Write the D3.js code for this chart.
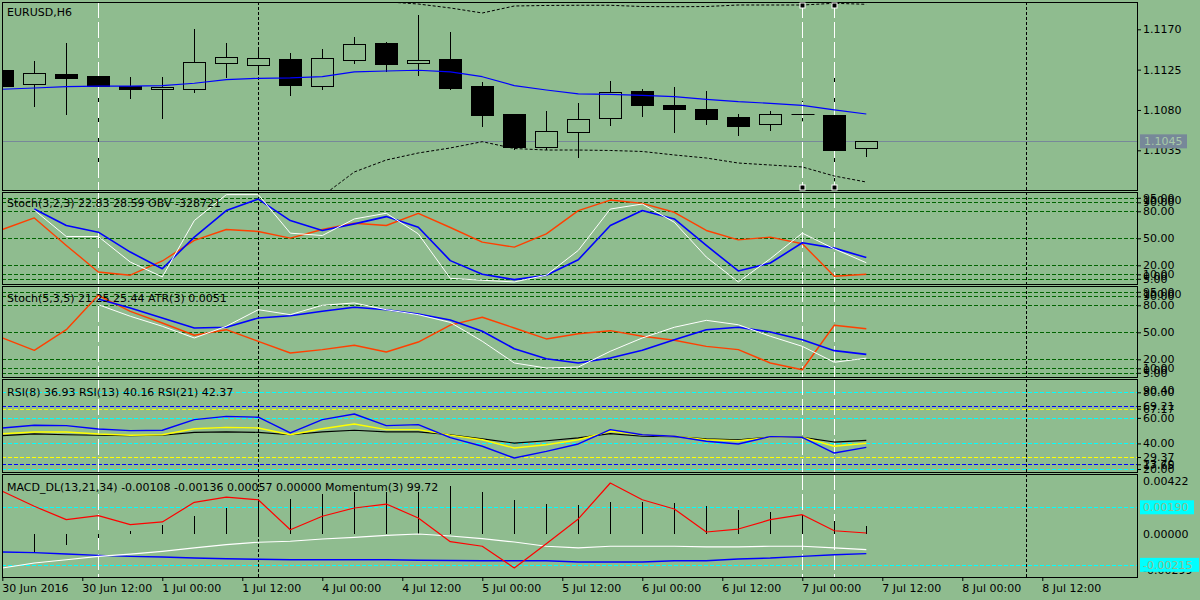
<!DOCTYPE html>
<html>
<head>
<meta charset="utf-8">
<title>EURUSD,H6</title>
<script src="https://cdnjs.cloudflare.com/ajax/libs/d3/7.8.5/d3.min.js"></script>
<style>
	body { margin: 0; background: #8fbc8f; }
	text { font-family: "DejaVu Sans", sans-serif; font-size: 11px; }
</style>
</head>
<body>
<div id="chart"></div>
<script>

// ---- values, one entry per H6 bar (bar 0 = 30 Jun 2016 00:00) ----

var timeLabels = ["30 Jun 2016", "30 Jun 12:00", "1 Jul 00:00", "1 Jul 12:00", "4 Jul 00:00", "4 Jul 12:00",
	"5 Jul 00:00", "5 Jul 12:00", "6 Jul 00:00", "6 Jul 12:00", "7 Jul 00:00", "7 Jul 12:00", "8 Jul 00:00", "8 Jul 12:00"];

var opens  = [1.11246, 1.11086, 1.11201, 1.11179, 1.11067, 1.11031, 1.11037, 1.11321, 1.11298, 1.11369, 1.11071, 1.11361, 1.11547, 1.11321,
	1.11369, 1.11067, 1.10755, 1.10383, 1.10551, 1.10707, 1.11012, 1.10855, 1.10811, 1.10722, 1.10640, 1.10752, 1.10744, 1.10372];
var highs  = [1.11260, 1.11346, 1.11547, 1.11201, 1.11168, 1.11168, 1.11703, 1.11547, 1.11469, 1.11436, 1.11480, 1.11614, 1.11558, 1.11860,
	1.11670, 1.11112, 1.10755, 1.10788, 1.10878, 1.11123, 1.11034, 1.11056, 1.11012, 1.10755, 1.10788, 1.10900, 1.11212, 1.10450];
var lows   = [1.11060, 1.10844, 1.10758, 1.10231, 1.10937, 1.10714, 1.11004, 1.11168, 1.11235, 1.10967, 1.11037, 1.11327, 1.11235, 1.11193,
	1.11034, 1.10624, 1.10364, 1.10368, 1.10279, 1.10636, 1.10736, 1.10558, 1.10647, 1.10524, 1.10580, 1.10691, 1.10019, 1.10290];
var closes = [1.11067, 1.11212, 1.11160, 1.11067, 1.11037, 1.11056, 1.11335, 1.11391, 1.11380, 1.11079, 1.11380, 1.11536, 1.11316, 1.11357,
	1.11048, 1.10747, 1.10390, 1.10562, 1.10699, 1.11000, 1.10859, 1.10814, 1.10703, 1.10624, 1.10752, 1.10752, 1.10357, 1.10450];

var maLine = [1.11031, 1.11045, 1.11060, 1.11067, 1.11067, 1.11071, 1.11098, 1.11138, 1.11153, 1.11157, 1.11171, 1.11224, 1.11235, 1.11243,
	1.11224, 1.11171, 1.11071, 1.11023, 1.10980, 1.10975, 1.10962, 1.10948, 1.10919, 1.10892, 1.10874, 1.10852, 1.10800, 1.10755];
var bandUpper = [null, null, null, null, null, null, null, null, null, null, null, 1.12116, 1.12007, 1.11982,
	1.11938, 1.11882, 1.11960, 1.11966, 1.11968, 1.11968, 1.11954, 1.11952, 1.11954, 1.11971, 1.11971, 1.11971, 1.11990, 1.11979];
var bandLower = [null, null, null, null, null, null, null, null, null, null, 1.09840, 1.10108, 1.10242, 1.10320,
	1.10376, 1.10446, 1.10370, 1.10353, 1.10353, 1.10348, 1.10337, 1.10298, 1.10264, 1.10208, 1.10186, 1.10164, 1.10063, 1.09996];

// Stoch(3,2,3) + OBV (OBV as plotted in the window)
var stoch1Main   = [null, 81.4, 52.0, 52.0, 23.6, 7.1, 69.7, 98.5, 98.5, 55.7, 53.1, 71.5, 77.8, 54.9,
	5.5, 3.4, 1.5, 9.0, 36.6, 82.5, 88.1, 67.8, 29.2, 1.5, 27.3, 55.7, 38.3, 22.83];
var stoch1Signal = [null, 82.5, 64.2, 56.8, 34.7, 16.2, 51.3, 80.8, 93.6, 69.7, 58.7, 66.0, 74.1, 62.3,
	25.2, 10.1, 4.1, 9.0, 26.2, 64.2, 80.8, 71.5, 42.1, 13.7, 22.5, 45.0, 39.1, 28.59];
var obvLine      = [59.8, 72.6, 42.1, 12.6, 9.0, 24.8, 47.6, 59.8, 57.6, 50.2, 59.8, 66.7, 64.2, 77.8,
	62.0, 45.7, 40.2, 54.9, 80.8, 92.5, 88.8, 78.9, 58.7, 48.3, 51.3, 43.9, 7.8, 10.1];

// Stoch(5,3,5) + ATR(3) (ATR as plotted in the window)
var stoch2Main   = [null, null, null, 80.7, 67.8, 56.7, 43.7, 56.7, 75.1, 69.6, 80.0, 82.6, 75.1, 69.6,
	61.0, 40.0, 15.9, 10.3, 11.4, 28.9, 43.7, 55.6, 63.3, 58.4, 45.6, 34.4, 16.7, 21.25];
var stoch2Signal = [null, null, null, 87.0, 77.0, 65.9, 54.8, 55.6, 65.9, 68.4, 73.3, 77.8, 75.1, 70.3,
	63.6, 51.1, 31.8, 20.7, 15.9, 21.4, 30.0, 41.8, 52.9, 55.6, 50.3, 41.8, 29.6, 25.44];
var atrLine      = [43.7, 30.0, 52.9, 91.1, 73.3, 60.3, 46.7, 52.9, 40.0, 27.0, 30.7, 35.6, 28.1, 39.2,
	58.0, 66.7, 54.8, 42.6, 48.4, 51.8, 45.6, 41.1, 34.4, 30.7, 15.9, 8.4, 57.8, 54.0];

var rsi8  = [52.1, 54.2, 53.9, 51.3, 50.0, 50.3, 58.6, 61.2, 60.5, 48.2, 58.6, 63.0, 53.9, 54.7,
	44.5, 37.8, 28.6, 33.8, 39.6, 50.8, 46.8, 45.6, 41.7, 39.6, 45.3, 44.8, 32.5, 36.93];
var rsi13 = [47.6, 49.0, 49.0, 47.4, 46.4, 46.8, 51.5, 52.6, 52.1, 46.8, 51.5, 55.2, 50.8, 50.8,
	46.5, 42.9, 36.4, 39.0, 42.9, 49.5, 46.8, 45.6, 42.9, 42.1, 44.8, 44.8, 37.8, 40.16];
var rsi21 = [46.1, 47.4, 46.8, 46.4, 46.1, 46.4, 48.7, 49.0, 48.7, 46.8, 49.0, 50.3, 49.0, 49.0,
	46.8, 43.5, 40.3, 42.1, 44.3, 47.6, 45.6, 45.3, 43.5, 42.9, 45.0, 44.8, 41.1, 42.37];

// MACD_DL(13,21,34) + Momentum(3) (momentum as plotted in the window)
var macdMain   = [-0.00237, -0.00202, -0.00179, -0.00155, -0.00139, -0.00120, -0.00096, -0.00073, -0.00056, -0.00049, -0.00033, -0.00021, -0.00007, 0.00002,
	-0.00012, -0.00031, -0.00054, -0.00084, -0.00096, -0.00084, -0.00084, -0.00084, -0.00089, -0.00089, -0.00084, -0.00084, -0.00096, -0.00108];
var macdSignal = [-0.00125, -0.00129, -0.00139, -0.00148, -0.00155, -0.00160, -0.00167, -0.00172, -0.00176, -0.00179, -0.00179, -0.00179, -0.00179, -0.00183,
	-0.00184, -0.00186, -0.00186, -0.00186, -0.00195, -0.00195, -0.00195, -0.00186, -0.00186, -0.00174, -0.00167, -0.00155, -0.00144, -0.00136];
var macdHist   = [null, -0.00132, -0.00073, -0.00026, 0.00025, 0.00068, 0.00131, 0.00185, 0.00243, 0.00251, 0.00284, 0.00298, 0.00298, 0.00298,
	0.00337, 0.00298, 0.00243, 0.00213, 0.00204, 0.00227, 0.00227, 0.00220, 0.00197, 0.00169, 0.00157, 0.00138, 0.00091, 0.00057];
var momentumLine = [0.00303, 0.00197, 0.00103, 0.00131, 0.00068, 0.00087, 0.00225, 0.00262, 0.00243, 0.00032, 0.00127, 0.00185, 0.00213, 0.00115,
	-0.00052, -0.00084, -0.00237, -0.00066, 0.00108, 0.00361, 0.00243, 0.00178, 0.00016, 0.00037, 0.00103, 0.00138, 0.00025, 0.00009];

// levels and axis labels
var priceTicks = [1.1170, 1.1125, 1.1080, 1.1035];
var stochLevels = [95, 90, 80, 50, 20, 10, 5];
var stochMax = 100;
var stochMin = 0;
var rsiCyanLevels = [80, 60, 40, 20];
var rsiBlueLevels = [69.21, 23.70];
var rsiYellowLevels = [67.17, 29.37];
var rsiTicks = [80, 69.21, 67.17, 60, 40, 29.37, 23.70, 20];
var macdLevels = [0.00190, -0.00215];
var macdMax = 0.00422;
var macdMin = -0.00299;

// vertical chart objects, by bar
var vLines = [
	{ bar: 3, kind: "white" },
	{ bar: 8, kind: "dot" },
	{ bar: 25, kind: "white", selected: true },
	{ bar: 26, kind: "white", selected: true },
	{ bar: 32, kind: "dot" }
];


/*
 * MT4 style chart - Object constructor function
 * @param _parentElement 	-- the HTML element in which to draw the chart
 */

Mt4Chart = function(_parentElement){
	this.parentElement = _parentElement;
	this.initVis();
}

Mt4Chart.prototype.initVis = function(){
	var vis = this;

	vis.width = 1200;
	vis.height = 600;
	vis.left = 2;
	vis.right = 1137;
	vis.bg = "#8fbc8f";
	vis.font = "DejaVu Sans, sans-serif";

	vis.svg = d3.select("#" + vis.parentElement).append("svg")
		.attr("width", vis.width)
		.attr("height", vis.height)

	vis.svg.append("rect")
		.attr("width", vis.width)
		.attr("height", vis.height)
		.attr("fill", vis.bg)

	// one bar every 32px
	vis.x = d3.scaleLinear().domain([0, 35]).range([2.3, 2.3 + 32 * 35]);

	vis.panels = {
		main:   { top: 2,   bottom: 190 },
		stoch1: { top: 192, bottom: 284 },
		stoch2: { top: 286, bottom: 377 },
		rsi:    { top: 379, bottom: 472 },
		macd:   { top: 474, bottom: 577 }
	};

	vis.yPrice  = d3.scaleLinear().domain([1.1035, 1.1170]).range([150.3, 29.3]);
	vis.yStoch1 = d3.scaleLinear().domain([0, 100]).range([283.3, 193.3]);
	vis.yStoch2 = d3.scaleLinear().domain([0, 100]).range([377.3, 287.3]);
	vis.yRsi    = d3.scaleLinear().domain([20, 80]).range([469, 392.3]);
	vis.yMacd   = d3.scaleLinear().domain([0, 0.0019]).range([534.3, 507.3]);

	var defs = vis.svg.append("defs");
	Object.keys(vis.panels).forEach(function(name){
		var p = vis.panels[name];
		defs.append("clipPath").attr("id", "clip-" + name)
			.append("rect")
			.attr("x", vis.left)
			.attr("y", p.top)
			.attr("width", vis.right - vis.left)
			.attr("height", p.bottom - p.top)
		p.g = vis.svg.append("g").attr("clip-path", "url(#clip-" + name + ")");
		p.back = p.g.append("g");
		p.wick = p.g.append("g");
		p.vline = p.g.append("g");
		p.front = p.g.append("g");
	});

	vis.drawMain();
	vis.drawIndicators();
	vis.drawFrame();
}


/*
 * helpers
 */

Mt4Chart.prototype.drawLine = function(layer, data, y, color, width){
	var vis = this;
	var line = d3.line()
		.defined(function(d){ return d !== null; })
		.x(function(d, i){ return vis.x(i); })
		.y(function(d){ return y(d); });

	return layer.append("path")
		.datum(data)
		.attr("d", line)
		.attr("fill", "none")
		.attr("stroke", color)
		.attr("stroke-width", width)
		.attr("stroke-linejoin", "round")
}

Mt4Chart.prototype.drawLevels = function(layer, levels, y, color){
	var vis = this;
	layer.selectAll(null)
		.data(levels)
		.enter()
		.append("line")
		.attr("x1", vis.left)
		.attr("x2", vis.right)
		.attr("y1", function(d){ return Math.round(y(d)) + 0.5; })
		.attr("y2", function(d){ return Math.round(y(d)) + 0.5; })
		.attr("stroke", color)
		.attr("stroke-dasharray", "4,2")
}

Mt4Chart.prototype.drawAxis = function(y, ticks, fmt, size){
	var vis = this;
	var axis = d3.axisRight(y)
		.tickValues(ticks)
		.tickFormat(fmt)
		.tickSize(size)
		.tickPadding(6 - size);

	var g = vis.svg.append("g")
		.attr("transform", "translate(" + vis.right + ",0)")
		.call(axis);
	g.select(".domain").remove();
	g.selectAll("text")
		.attr("font-family", vis.font)
		.attr("font-size", 11)
		.attr("fill", "#000")
	return g;
}

// MT4 prints the window's max / min just inside its top / bottom edge
Mt4Chart.prototype.drawRange = function(y, maxVal, minVal, fmt, inset){
	var vis = this;
	inset = inset || 7;
	vis.svg.append("text")
		.text(fmt(maxVal))
		.attr("x", 1143)
		.attr("y", y(maxVal) + inset)
		.attr("dy", "0.36em")
	vis.svg.append("text")
		.text(fmt(minVal))
		.attr("x", 1143)
		.attr("y", y(minVal) - 7)
		.attr("dy", "0.36em")
}

Mt4Chart.prototype.drawTitle = function(text, baseline){
	var vis = this;
	vis.svg.append("text")
		.text(text)
		.attr("x", 7)
		.attr("y", baseline)
		.attr("fill", "#000")
}


/*
 * price window: candles, moving average, bands
 */

Mt4Chart.prototype.drawMain = function(){
	var vis = this;
	var p = vis.panels.main;
	var y = vis.yPrice;

	var candles = d3.range(opens.length).map(function(i){
		return { i: i, o: opens[i], h: highs[i], l: lows[i], c: closes[i] };
	});
	var cx = function(d){ return Math.round(vis.x(d.i)) + 0.5; };

	// bid line
	var bid = closes[closes.length - 1];
	p.back.append("line")
		.attr("x1", vis.left)
		.attr("x2", vis.right)
		.attr("y1", Math.round(y(bid)) + 0.5)
		.attr("y2", Math.round(y(bid)) + 0.5)
		.attr("stroke", "#778899")

	p.wick.selectAll("line")
		.data(candles)
		.enter()
		.append("line")
		.attr("x1", cx)
		.attr("x2", cx)
		.attr("y1", function(d){ return Math.round(y(d.h)); })
		.attr("y2", function(d){ return Math.round(y(d.l)) + 1; })
		.attr("stroke", "#000")

	var bodies = candles.filter(function(d){ return d.o !== d.c; });
	p.front.selectAll("rect.body")
		.data(bodies)
		.enter()
		.append("rect")
		.attr("class", "body")
		.attr("x", function(d){ return cx(d) - 11; })
		.attr("y", function(d){ return Math.round(y(Math.max(d.o, d.c))) + 0.5; })
		.attr("width", 22)
		.attr("height", function(d){
			return Math.max(1, Math.round(y(Math.min(d.o, d.c))) - Math.round(y(Math.max(d.o, d.c))));
		})
		.attr("fill", function(d){ return d.c > d.o ? vis.bg : "#000"; })
		.attr("stroke", "#000")

	// doji
	p.front.selectAll("line.doji")
		.data(candles.filter(function(d){ return d.o === d.c; }))
		.enter()
		.append("line")
		.attr("class", "doji")
		.attr("x1", function(d){ return cx(d) - 11; })
		.attr("x2", function(d){ return cx(d) + 12; })
		.attr("y1", function(d){ return Math.round(y(d.c)) + 0.5; })
		.attr("y2", function(d){ return Math.round(y(d.c)) + 0.5; })
		.attr("stroke", "#000")

	vis.drawLine(p.front, bandUpper, y, "#000", 1).attr("stroke-dasharray", "3,2");
	vis.drawLine(p.front, bandLower, y, "#000", 1).attr("stroke-dasharray", "3,2");
	vis.drawLine(p.front, maLine, y, "#0000ff", 1.2);

	vis.drawAxis(y, priceTicks, function(d){ return d.toFixed(4); }, 4);

	// bid label
	vis.svg.append("rect")
		.attr("x", 1140)
		.attr("y", y(bid) - 7)
		.attr("width", 47)
		.attr("height", 14)
		.attr("fill", "#778899")
	vis.svg.append("text")
		.text(bid.toFixed(4))
		.attr("x", 1144)
		.attr("y", y(bid))
		.attr("dy", "0.36em")
		.attr("fill", "#a8caa8")
}


/*
 * indicator windows
 */

Mt4Chart.prototype.drawIndicators = function(){
	var vis = this;
	var fmt2 = function(d){ return d.toFixed(2); };

	// Stoch(3,2,3) / OBV
	var s1 = vis.panels.stoch1;
	vis.drawLevels(s1.back, stochLevels, vis.yStoch1, "#006400");
	vis.drawLine(s1.front, obvLine, vis.yStoch1, "#ff4000", 1.4);
	vis.drawLine(s1.front, stoch1Signal, vis.yStoch1, "#0000ff", 1.6);
	vis.drawLine(s1.front, stoch1Main, vis.yStoch1, "#ffffff", 1);
	vis.drawAxis(vis.yStoch1, stochLevels, fmt2, 4);
	vis.drawRange(vis.yStoch1, stochMax, stochMin, fmt2);

	// Stoch(5,3,5) / ATR
	var s2 = vis.panels.stoch2;
	vis.drawLevels(s2.back, stochLevels, vis.yStoch2, "#006400");
	vis.drawLine(s2.front, atrLine, vis.yStoch2, "#ff4000", 1.4);
	vis.drawLine(s2.front, stoch2Signal, vis.yStoch2, "#0000ff", 1.6);
	vis.drawLine(s2.front, stoch2Main, vis.yStoch2, "#ffffff", 1);
	vis.drawAxis(vis.yStoch2, stochLevels, fmt2, 4);
	vis.drawRange(vis.yStoch2, stochMax, stochMin, fmt2);

	// RSI 8 / 13 / 21
	var r = vis.panels.rsi;
	vis.drawLevels(r.back, rsiCyanLevels, vis.yRsi, "#00ffff");
	vis.drawLevels(r.back, rsiBlueLevels, vis.yRsi, "#0000ff");
	vis.drawLevels(r.back, rsiYellowLevels, vis.yRsi, "#ffff00");
	vis.drawLine(r.front, rsi21, vis.yRsi, "#000000", 1.2);
	vis.drawLine(r.front, rsi13, vis.yRsi, "#ffff00", 1.4);
	vis.drawLine(r.front, rsi8, vis.yRsi, "#0000ff", 1.4);
	vis.drawAxis(vis.yRsi, rsiTicks, fmt2, 4);
	vis.drawRange(vis.yRsi, vis.yRsi.invert(r.top), vis.yRsi.invert(r.bottom), fmt2, 11);

	// MACD_DL / Momentum
	var m = vis.panels.macd;
	var y = vis.yMacd;
	vis.drawLevels(m.back, macdLevels, y, "#00ffff");

	var hist = macdHist.map(function(v, i){ return { i: i, v: v }; })
		.filter(function(d){ return d.v !== null; });
	m.front.selectAll("line.hist")
		.data(hist)
		.enter()
		.append("line")
		.attr("class", "hist")
		.attr("x1", function(d){ return Math.round(vis.x(d.i)) + 0.5; })
		.attr("x2", function(d){ return Math.round(vis.x(d.i)) + 0.5; })
		.attr("y1", Math.round(y(0)))
		.attr("y2", function(d){ return Math.round(y(d.v)); })
		.attr("stroke", "#000")

	vis.drawLine(m.front, macdSignal, y, "#0000ff", 1.4);
	vis.drawLine(m.front, macdMain, y, "#ffffff", 1.2);
	vis.drawLine(m.front, momentumLine, y, "#ff0000", 1.2);

	var fmt5 = function(d){ return d.toFixed(5); };
	vis.drawAxis(y, [0], fmt5, 0);
	vis.drawRange(y, macdMax, macdMin, fmt5);

	// level boxes
	macdLevels.forEach(function(v){
		vis.svg.append("rect")
			.attr("x", 1140)
			.attr("y", y(v) - 7)
			.attr("width", v < 0 ? 59 : 54)
			.attr("height", 14)
			.attr("fill", "#00ffff")
		vis.svg.append("text")
			.text(fmt5(v))
			.attr("x", 1143)
			.attr("y", y(v))
			.attr("dy", "0.36em")
			.attr("fill", vis.bg)
	});
}


/*
 * borders, vertical objects, time axis, titles
 */

Mt4Chart.prototype.drawFrame = function(){
	var vis = this;

	Object.keys(vis.panels).forEach(function(name){
		var p = vis.panels[name];

		// wicks sit under the vertical objects, bodies above
		vLines.forEach(function(v){
			var xv = Math.round(vis.x(v.bar)) + 0.5;
			p.vline.append("line")
				.attr("x1", xv)
				.attr("x2", xv)
				.attr("y1", p.top)
				.attr("y2", p.bottom)
				.attr("stroke", v.kind === "white" ? "#ffffff" : "#000")
				.attr("stroke-dasharray", v.kind === "white" ? "16,4" : "3,2")
		});

		vis.svg.append("rect")
			.attr("x", vis.left + 0.5)
			.attr("y", p.top + 0.5)
			.attr("width", vis.right - vis.left)
			.attr("height", p.bottom - p.top)
			.attr("fill", "none")
			.attr("stroke", "#000")
	});

	// handles of the selected vertical lines
	var main = vis.panels.main;
	vLines.filter(function(v){ return v.selected; }).forEach(function(v){
		[main.top + 3, main.bottom - 3].forEach(function(yy){
			vis.svg.append("rect")
				.attr("x", Math.round(vis.x(v.bar)) - 2)
				.attr("y", yy - 2)
				.attr("width", 5)
				.attr("height", 5)
				.attr("fill", "#000")
				.attr("stroke", "#fff")
				.attr("stroke-width", 1)
		});
	});

	// time axis, one label every 2.5 bars
	var tickBars = timeLabels.map(function(d, i){ return i * 2.5; });
	var xAxis = d3.axisBottom(vis.x)
		.tickValues(tickBars)
		.tickFormat(function(d, i){ return timeLabels[i]; })
		.tickSize(4)
		.tickPadding(3);

	var gx = vis.svg.append("g")
		.attr("transform", "translate(0," + vis.panels.macd.bottom + ")")
		.call(xAxis);
	gx.select(".domain").remove();
	gx.selectAll("text")
		.attr("text-anchor", "start")
		.attr("x", -0.5)
		.attr("font-family", vis.font)
		.attr("font-size", 11)
		.attr("fill", "#000")

	vis.drawTitle("EURUSD,H6", 16);
	vis.drawTitle("Stoch(3,2,3) 22.83 28.59 OBV -328721", 207);
	vis.drawTitle("Stoch(5,3,5) 21.25 25.44 ATR(3) 0.0051", 302);
	vis.drawTitle("RSI(8) 36.93 RSI(13) 40.16 RSI(21) 42.37", 396);
	vis.drawTitle("MACD_DL(13,21,34) -0.00108 -0.00136 0.00057 0.00000 Momentum(3) 99.72", 490.5);
}

var chart = new Mt4Chart("chart");

</script>
</body>
</html>
